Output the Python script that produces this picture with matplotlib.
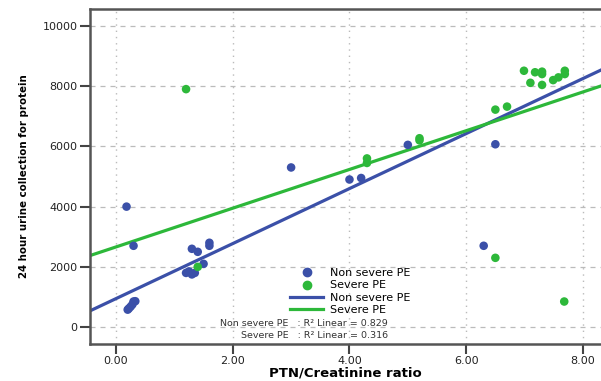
import numpy as np
import matplotlib
matplotlib.use("Agg")
from matplotlib import pyplot as plt
from matplotlib.lines import Line2D

# non severe PE points
ns_ratio = [0.18, 0.30, 0.20, 0.22, 0.25, 0.28, 0.30, 0.33,
            1.20, 1.25, 1.30, 1.35, 1.30, 1.40, 1.50, 1.60, 1.60,
            3.00, 4.00, 4.20, 5.00, 6.50, 6.30]
ns_protein = [4000, 2700, 580, 620, 680, 750, 850, 860,
              1800, 1850, 1750, 1800, 2600, 2500, 2100, 2700, 2800,
              5300, 4900, 4950, 6050, 6070, 2700]

# severe PE points
sv_ratio = [1.20, 1.40, 4.30, 4.30, 5.20, 5.20, 6.50, 6.70,
            6.99, 7.10, 7.18, 7.30, 7.30, 7.30, 7.49, 7.58, 7.69, 7.69,
            6.50, 7.68]
sv_protein = [7900, 2000, 5600, 5450, 6270, 6200, 7220, 7320,
              8510, 8110, 8460, 8480, 8400, 8040, 8200, 8290, 8510, 8400,
              2300, 850]

# fit lines
ns_fit = (913, 947)    # slope, intercept
sv_fit = (643, 2662)
ns_r2 = 0.829
sv_r2 = 0.316

xticks = [0, 2, 4, 6, 8]
yticks = [0, 2000, 4000, 6000, 8000, 10000]

blue = "#3b50a8"
green = "#2db83a"

fig = plt.figure(figsize=(6.01, 3.81), dpi=100)
ax = fig.add_axes([90 / 601, 1 - 344 / 381, 1 - 90 / 601, (344 - 9) / 381])
xmin, xmax = -0.446, 8.31
ax.set_xlim(xmin, xmax)
ax.set_ylim(-560, 10560)

for y in yticks:
    ax.axhline(y, color="#bbbbbb", lw=0.9, ls=(0, (4, 4)), zorder=0)
for x in xticks:
    ax.axvline(x, color="#bbbbbb", lw=1.0, ls=(0, (1, 3.5)), zorder=0)

xs = np.array([xmin, xmax])
ax.plot(xs, ns_fit[0] * xs + ns_fit[1], color=blue, lw=2.3, zorder=2)
ax.plot(xs, sv_fit[0] * xs + sv_fit[1], color=green, lw=2.3, zorder=2)

ax.scatter(ns_ratio, ns_protein, s=38, color=blue, edgecolors="none", zorder=3)
ax.scatter(sv_ratio, sv_protein, s=38, color=green, edgecolors="none", zorder=3)

ax.set_xticks(xticks)
ax.set_xticklabels(["%.2f" % v for v in xticks])
ax.set_yticks(yticks)
ax.set_yticklabels([str(v) for v in yticks])
ax.tick_params(axis="both", direction="out", length=7, width=1.5,
               color="#444444", labelsize=8, labelcolor="#222222", pad=2)
for lab in ax.get_xticklabels() + ax.get_yticklabels():
    lab.set_family("DejaVu Sans")

for side in ["left", "bottom", "top"]:
    ax.spines[side].set_color("#555555")
    ax.spines[side].set_linewidth(1.8)
ax.spines["right"].set_visible(False)

ax.set_xlabel("PTN/Creatinine ratio", fontsize=9.5, fontweight="bold",
              family="DejaVu Sans", labelpad=0)
ax.set_ylabel("24 hour urine collection for protein", fontsize=8.2,
              fontweight="bold", family="DejaVu Sans", fontstretch="condensed",
              labelpad=10)

handles = [
    Line2D([], [], ls="none", marker="o", ms=6, color=blue),
    Line2D([], [], ls="none", marker="o", ms=6, color=green),
    Line2D([], [], color=blue, lw=2.3),
    Line2D([], [], color=green, lw=2.3),
]
labels = ["Non severe PE", "Severe PE", "Non severe PE", "Severe PE"]
fig.legend(handles, labels, loc="upper left",
           bbox_to_anchor=(290 / 601, 1 - 268 / 381), frameon=False,
           labelspacing=0.22, handlelength=3.0, handletextpad=0.6,
           borderpad=0, borderaxespad=0, prop={"family": "DejaVu Sans", "size": 8})

fig.text(388 / 601, 1 - 324 / 381,
         "Non severe PE   : R\u00b2 Linear = %.3f" % ns_r2,
         ha="right", va="center", fontsize=6.8, color="#333333")
fig.text(388 / 601, 1 - 335 / 381,
         "Severe PE   : R\u00b2 Linear = %.3f" % sv_r2,
         ha="right", va="center", fontsize=6.8, color="#333333")

fig.savefig("out.png", dpi=100)
